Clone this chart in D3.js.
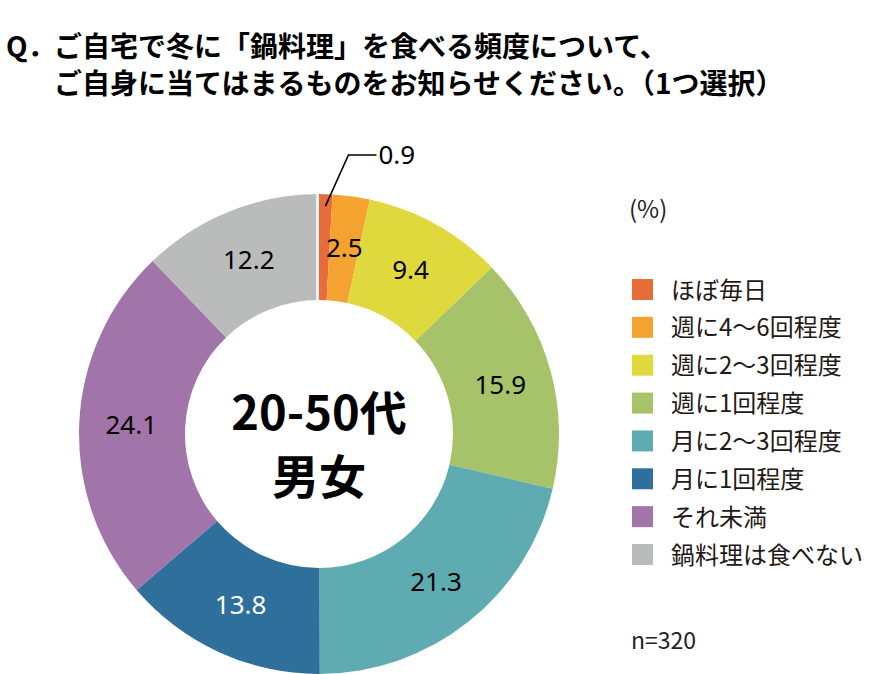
<!DOCTYPE html>
<html lang="ja">
<head>
<meta charset="utf-8">
<script src="https://cdn.jsdelivr.net/npm/d3@7/dist/d3.min.js"></script>
<style>
  html, body { margin: 0; padding: 0; background: #fff; }
  svg { display: block; }
</style>
</head>
<body>
<div id="chart"></div>
<script>
  // ---- data ----
  const categories = ["ほぼ毎日", "週に4〜6回程度", "週に2〜3回程度", "週に1回程度",
                      "月に2〜3回程度", "月に1回程度", "それ未満", "鍋料理は食べない"];
  const values = [0.9, 2.5, 9.4, 15.9, 21.3, 13.8, 24.1, 12.2];
  const colors = ["#E66D39", "#F4A331", "#DFD93E", "#A7C36A",
                  "#5EABB1", "#2E6F9B", "#A175A9", "#BABCBB"];
  const labelColors = ["#000", "#000", "#000", "#000", "#000", "#fff", "#000", "#000"];
  const titleLines = ["ご自宅で冬に「鍋料理」を食べる頻度について、",
                      "ご自身に当てはまるものをお知らせください。（1つ選択）"];
  const centerLines = ["20-50代", "男女"];

  const width = 873, height = 674;
  const cx = 319, cy = 434, outerR = 240, innerR = 134, labelR = 188;
  const jp = "'Noto Sans CJK JP', 'Noto Sans', sans-serif";
  const num = "'Noto Sans', 'Open Sans', sans-serif";

  const svg = d3.select("#chart").append("svg")
    .attr("width", width).attr("height", height);

  // ---- title ----
  svg.append("text")
    .attr("x", 6).attr("y", 57)
    .attr("font-family", jp).attr("font-weight", 700).attr("font-size", 28)
    .attr("fill", "#000").text("Q．");
  titleLines.forEach((t, i) => {
    svg.append("text")
      .attr("x", 54).attr("y", 57 + i * 37)
      .attr("font-family", jp).attr("font-weight", 700).attr("font-size", 28)
      .attr("fill", "#000").text(t);
  });

  // ---- donut ----
  const pie = d3.pie().sort(null).value(d => d)(values);
  const arc = d3.arc().innerRadius(innerR).outerRadius(outerR);
  const labelArc = d3.arc().innerRadius(labelR).outerRadius(labelR);

  const g = svg.append("g").attr("transform", `translate(${cx},${cy})`);

  g.selectAll("path.slice")
    .data(pie)
    .join("path")
    .attr("class", "slice")
    .attr("d", arc)
    .attr("fill", (d, i) => colors[i]);

  // thin white separator at 12 o'clock
  g.append("line")
    .attr("x1", -1.5).attr("x2", -1.5)
    .attr("y1", -innerR).attr("y2", -outerR - 2)
    .attr("stroke", "#fff").attr("stroke-width", 2.5);

  // value labels (all but the tiny first slice)
  g.selectAll("text.val")
    .data(pie.slice(1))
    .join("text")
    .attr("class", "val")
    .attr("transform", d => `translate(${labelArc.centroid(d)})`)
    .attr("text-anchor", "middle")
    .attr("dy", "0.36em")
    .attr("font-family", num)
    .attr("font-size", 26)
    .attr("fill", (d, i) => labelColors[i + 1])
    .text(d => d.data.toFixed(1));

  // leader for the first slice
  const first = pie[0];
  const a0 = (first.startAngle + first.endAngle) / 2;
  const p0 = [Math.sin(a0) * (outerR - 12), -Math.cos(a0) * (outerR - 12)];
  const p1 = [p0[0] + 23, -outerR - 39];
  const p2 = [p1[0] + 28, p1[1]];
  g.append("polyline")
    .attr("points", [p0, p1, p2].map(p => p.join(",")).join(" "))
    .attr("fill", "none").attr("stroke", "#000").attr("stroke-width", 1.6);
  g.append("text")
    .attr("x", p2[0] + 2).attr("y", p2[1])
    .attr("dy", "0.36em")
    .attr("font-family", num).attr("font-size", 26)
    .attr("fill", "#000").text(values[0].toFixed(1));

  // center text
  centerLines.forEach((t, i) => {
    g.append("text")
      .attr("x", 0).attr("y", -4 + i * 64)
      .attr("text-anchor", "middle")
      .attr("font-family", jp).attr("font-weight", 700).attr("font-size", 47)
      .attr("fill", "#000").text(t);
  });

  // ---- legend ----
  svg.append("text")
    .attr("x", 629).attr("y", 218)
    .attr("font-family", jp).attr("font-size", 24)
    .attr("fill", "#222").text("(%)");

  const y = d3.scalePoint().domain(categories).range([289, 554]);
  const leg = svg.append("g").selectAll("g")
    .data(categories)
    .join("g")
    .attr("transform", d => `translate(632,${y(d)})`);
  leg.append("rect")
    .attr("x", 0).attr("y", -10).attr("width", 21).attr("height", 21)
    .attr("fill", (d, i) => colors[i]);
  leg.append("text")
    .attr("x", 39).attr("y", 1).attr("dy", "0.36em")
    .attr("font-family", jp).attr("font-size", 24)
    .attr("fill", "#231815").text(d => d);

  svg.append("text")
    .attr("x", 631).attr("y", 649)
    .attr("font-family", jp).attr("font-size", 23)
    .attr("fill", "#222").text("n=320");
</script>
</body>
</html>
